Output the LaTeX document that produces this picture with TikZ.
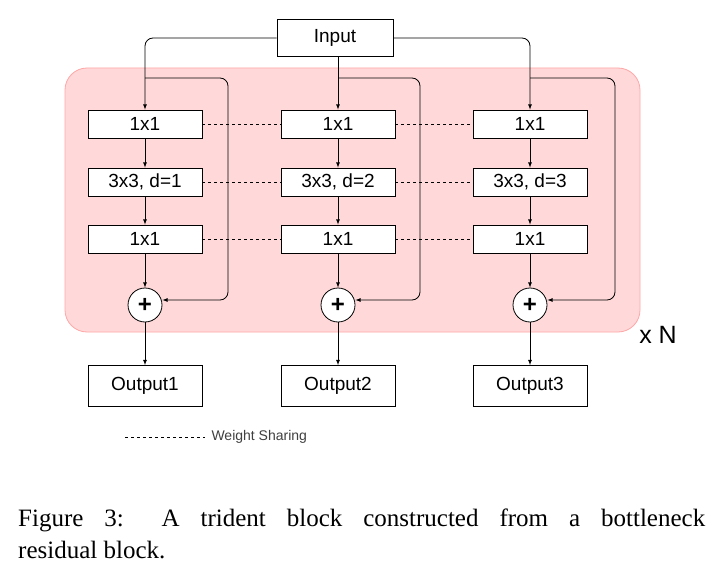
\documentclass[tikz,border=0pt]{standalone}
\usepackage{fontspec}
\setmainfont{Liberation Sans}
\newfontfamily\capfont{Liberation Serif}
\begin{document}
\begin{tikzpicture}[x=1pt,y=-1pt,
  box/.style={draw,thick,fill=white,minimum width=114pt,minimum height=28pt,inner sep=0pt,font=\fontsize{19}{22}\selectfont},
  obox/.style={box,minimum height=41pt},
  plus/.style={draw,thick,circle,fill=white,minimum size=34pt,inner sep=0pt,font=\fontsize{24}{24}\selectfont\bfseries},
  arr/.style={thick,->,>=latex},
  ws/.style={dashed,thin}]
\useasboundingbox (0,0) rectangle (720,583);
\fill[white] (0,0) rectangle (720,583);
\draw[fill=red!15,draw=red!35,thick,rounded corners=22pt] (65,68) rectangle (640,332);
\node[box,minimum width=116pt,minimum height=37pt] (in) at (335,38) {Input};
\foreach \c/\x/\d/\s in {1/145/1/228,2/338/2/420,3/530/3/615}{
  \node[box] (a\c) at (\x,124) {1x1};
  \node[box] (b\c) at (\x,182) {3x3, d=\d};
  \node[box] (c\c) at (\x,239) {1x1};
  \node[plus] (p\c) at (\x,305) {+};
  \node[obox] (o\c) at (\x,386) {Output\c};
  \coordinate (t\c) at (\x,78);
  \coordinate (s\c) at (\s,78);
  \coordinate (e\c) at (\s,300);
  \draw[arr] (a\c) -- (b\c);
  \draw[arr] (b\c) -- (c\c);
  \draw[arr] (c\c) -- (p\c);
  \draw[arr] (p\c) -- (o\c);
  \draw[arr,rounded corners=8pt] (t\c) -- (s\c) -- (e\c) -- (p\c.east |- e\c);
}
\draw[arr,rounded corners=8pt] (in.west) -| (a1.north);
\draw[arr] (a2.north |- in.south) -- (a2.north);
\draw[arr,rounded corners=8pt] (in.east) -| (a3.north);
\foreach \r in {a,b,c}{
  \draw[ws] (\r1.east) -- (\r2.west);
  \draw[ws] (\r2.east) -- (\r3.west);
}
\node[font=\fontsize{25}{25}\selectfont] (xn) at (658,335) {x N};
\coordinate (l1) at (125,437);
\coordinate (l2) at (205,437);
\draw[ws] (l1) -- (l2);
\node[anchor=west,font=\fontsize{14}{16}\selectfont,text=black!75] (wl) at (208,437) {Weight Sharing};
\node[anchor=west,inner sep=0pt,font=\capfont\fontsize{25}{30}\selectfont] (cap1) at (18,520) {\makebox[687pt][s]{Figure 3: A trident block constructed from a bottleneck}};
\node[anchor=west,inner sep=0pt,font=\capfont\fontsize{25}{30}\selectfont] (cap2) at (18,550) {residual block.};
\end{tikzpicture}
\end{document}
